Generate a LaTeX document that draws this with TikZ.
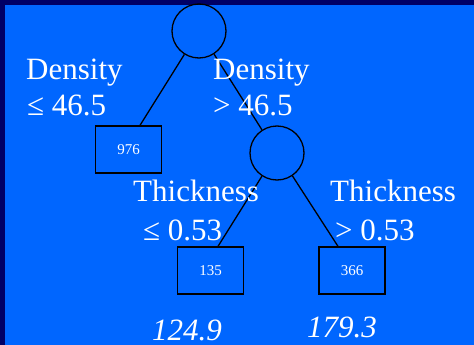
\documentclass[tikz,border=0pt]{standalone}
\usepackage{fontspec}
\setmainfont{Liberation Serif}
\usepackage{xcolor}
\usepackage{tikz}
\usetikzlibrary{positioning,calc}
\definecolor{SlideBlue}{HTML}{0066FF}
\definecolor{SlideNavy}{HTML}{000066}

\begin{document}
\begin{tikzpicture}[
            x=1pt, y=-1pt,
            split/.style={
                    circle,
                    draw=black,
                    line width=1.3pt,
                    minimum size=54pt,
                    inner sep=0pt
                },
            leaf/.style={
                    rectangle,
                    draw=black,
                    line width=1.3pt,
                    minimum width=66pt,
                    minimum height=47pt,
                    inner sep=0pt,
                    text=white,
                    font=\fontsize{15}{17}\selectfont
                },
            edge/.style={line width=1.3pt, draw=black},
            clabel/.style={
                    inner sep=0pt,
                    text=white,
                    align=left,
                    anchor=base west,
                    font=\fontsize{31}{35}\selectfont
                },
            val/.style={
                    inner sep=0pt,
                    text=white,
                    anchor=base,
                    font=\fontsize{31}{35}\selectfont\itshape
                },
        ]

        % Background
        \fill[SlideNavy] (0,0) rectangle (474,345);
        \fill[SlideBlue] (5,5) rectangle (474,345);
        \useasboundingbox (0,0) rectangle (474,345);

        % Splits and leaves
        \node[split] (root) at (199,31) {};
        \node[split] (thick) at (277,153) {};
        \node[leaf] (l976) at (128.5,149.5) {976};
        \node[leaf] (l135) at (210.5,270.5) {135};
        \node[leaf] (l366) at (352,270.5) {366};

        % Branches
        \draw[edge] (root.238) -- ([xshift=11.5pt]l976.north);
        \draw[edge] (root.303) -- (thick.123);
        \draw[edge] (thick.237) -- ([xshift=7.5pt]l135.north);
        \draw[edge] (thick.304) -- ([xshift=-14pt]l366.north);

        % Conditions
        \node[clabel] (dlo) at (26,80) {Density};
        \node[clabel] (dlo2) at (27,115) {≤ 46.5};
        \node[clabel] (dhi) at (213,80) {Density};
        \node[clabel] (dhi2) at (213,115) {> 46.5};
        \node[clabel] (tlo) at (133,201) {Thickness};
        \node[clabel] (tlo2) at (143,240) {≤ 0.53};
        \node[clabel] (thi) at (330,201) {Thickness};
        \node[clabel] (thi2) at (335,240) {> 0.53};

        % Leaf values
        \node[val] (v135) at (187,340) {124.9};
        \node[val] (v366) at (342,337) {179.3};

    \end{tikzpicture}
\end{document}
